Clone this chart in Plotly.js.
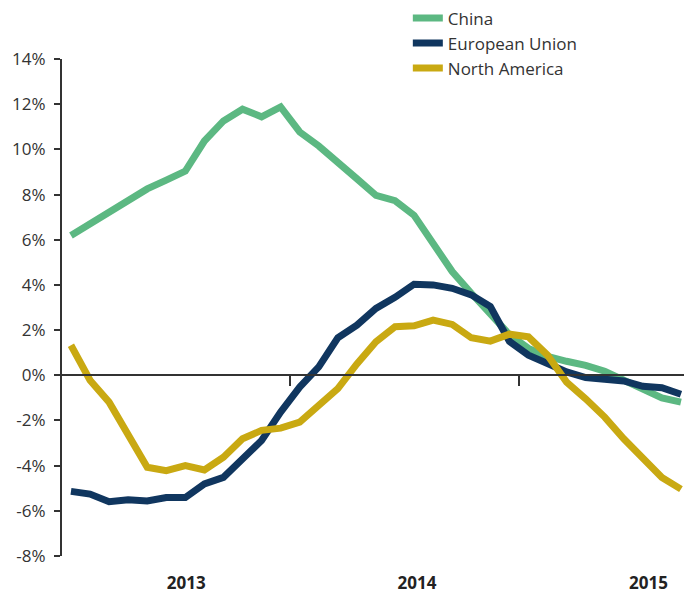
<!DOCTYPE html>
<html>
<head>
<meta charset="utf-8">
<script src="https://cdn.plot.ly/plotly-3.0.1.min.js"></script>
<style>
html,body{margin:0;padding:0;background:#fff;}
#chart{width:684px;height:594px;}
</style>
</head>
<body>
<div id="chart"></div>
<script>
// Monthly index (0 = first month shown, Jan 2013 ... Sep 2015)
const months = Array.from({length: 33}, (_, i) => i);

const china = [6.19, 6.71, 7.2, 7.7, 8.25, 8.64, 9.04, 10.37, 11.26, 11.78, 11.44, 11.88,
  10.77, 10.15, 9.38, 8.7, 7.96, 7.73, 7.08, 5.84, 4.59, 3.63, 2.72, 1.8,
  1.19, 0.84, 0.62, 0.44, 0.18, -0.22, -0.67, -1.0, -1.19];

const eu = [-5.14, -5.26, -5.6, -5.51, -5.56, -5.41, -5.41, -4.81, -4.52, -3.7, -2.89, -1.63,
  -0.52, 0.37, 1.66, 2.22, 2.96, 3.45, 4.03, 4.0, 3.85, 3.56, 3.04, 1.5,
  0.89, 0.52, 0.15, -0.1, -0.15, -0.25, -0.49, -0.55, -0.84];

const northAmerica = [1.33, -0.22, -1.19, -2.67, -4.07, -4.22, -4.0, -4.19, -3.63, -2.81, -2.44, -2.34,
  -2.07, -1.33, -0.59, 0.5, 1.48, 2.15, 2.19, 2.44, 2.25, 1.66, 1.51, 1.82,
  1.7, 0.89, -0.3, -1.04, -1.85, -2.81, -3.63, -4.52, -5.04];

const seriesNames = ["China", "European Union", "North America"];
const yearBoundaries = [11.5, 23.5];
const yearLabelPos = [6.05, 18.15, 30.3];
const yearLabels = ["2013", "2014", "2015"];
const yTicks = [-8, -6, -4, -2, 0, 2, 4, 6, 8, 10, 12, 14];
const yTickText = yTicks.map(v => v + "%");

const colors = ["#5cb882", "#10365f", "#c9a912"];
const font = "'Open Sans', 'Liberation Sans', sans-serif";

const data = [china, eu, northAmerica].map((ys, k) => ({
  x: months, y: ys, type: "scatter", mode: "lines", name: seriesNames[k],
  line: {color: colors[k], width: 7, shape: "linear"},
  hoverinfo: "skip"
}));
// dummy trace for bottom year labels axis
data.push({x: [yearLabelPos[0]], y: [null], xaxis: "x2", yaxis: "y", showlegend: false,
  mode: "markers", hoverinfo: "skip"});

const layout = {
  width: 684, height: 594,
  margin: {l: 62, r: 0, t: 59, b: 38},
  paper_bgcolor: "#fff", plot_bgcolor: "#fff",
  font: {family: font, size: 17, color: "#333"},
  showlegend: true,
  legend: {x: 0.556, xanchor: "left", y: 1.118, yanchor: "top",
    font: {family: font, size: 17, color: "#333"}, tracegroupgap: 0,
    bgcolor: "rgba(0,0,0,0)"},
  xaxis: {
    range: [-0.47, 32.16], showgrid: false, zeroline: false,
    showline: true, linecolor: "#333", linewidth: 2,
    anchor: "free", position: 8 / 22,
    ticks: "outside", tickvals: yearBoundaries, ticklen: 10, tickwidth: 2, tickcolor: "#333",
    showticklabels: false, fixedrange: true
  },
  xaxis2: {
    overlaying: "x", range: [-0.47, 32.16], showgrid: false, zeroline: false,
    showline: false, side: "bottom", anchor: "y",
    ticks: "", tickvals: yearLabelPos, ticktext: yearLabels,
    ticklabelstandoff: 15,
    tickfont: {family: font, size: 17, color: "#222", weight: "bold"}
  },
  yaxis: {
    range: [-8, 14], showgrid: false, zeroline: false,
    showline: true, linecolor: "#333", linewidth: 2,
    ticks: "outside", ticklen: 6, tickwidth: 2, tickcolor: "#333",
    ticklabelstandoff: 5,
    tickvals: yTicks, ticktext: yTickText,
    tickfont: {family: font, size: 17, color: "#333"},
    fixedrange: true
  }
};

Plotly.newPlot("chart", data, layout, {staticPlot: true, displayModeBar: false});
</script>
</body>
</html>
